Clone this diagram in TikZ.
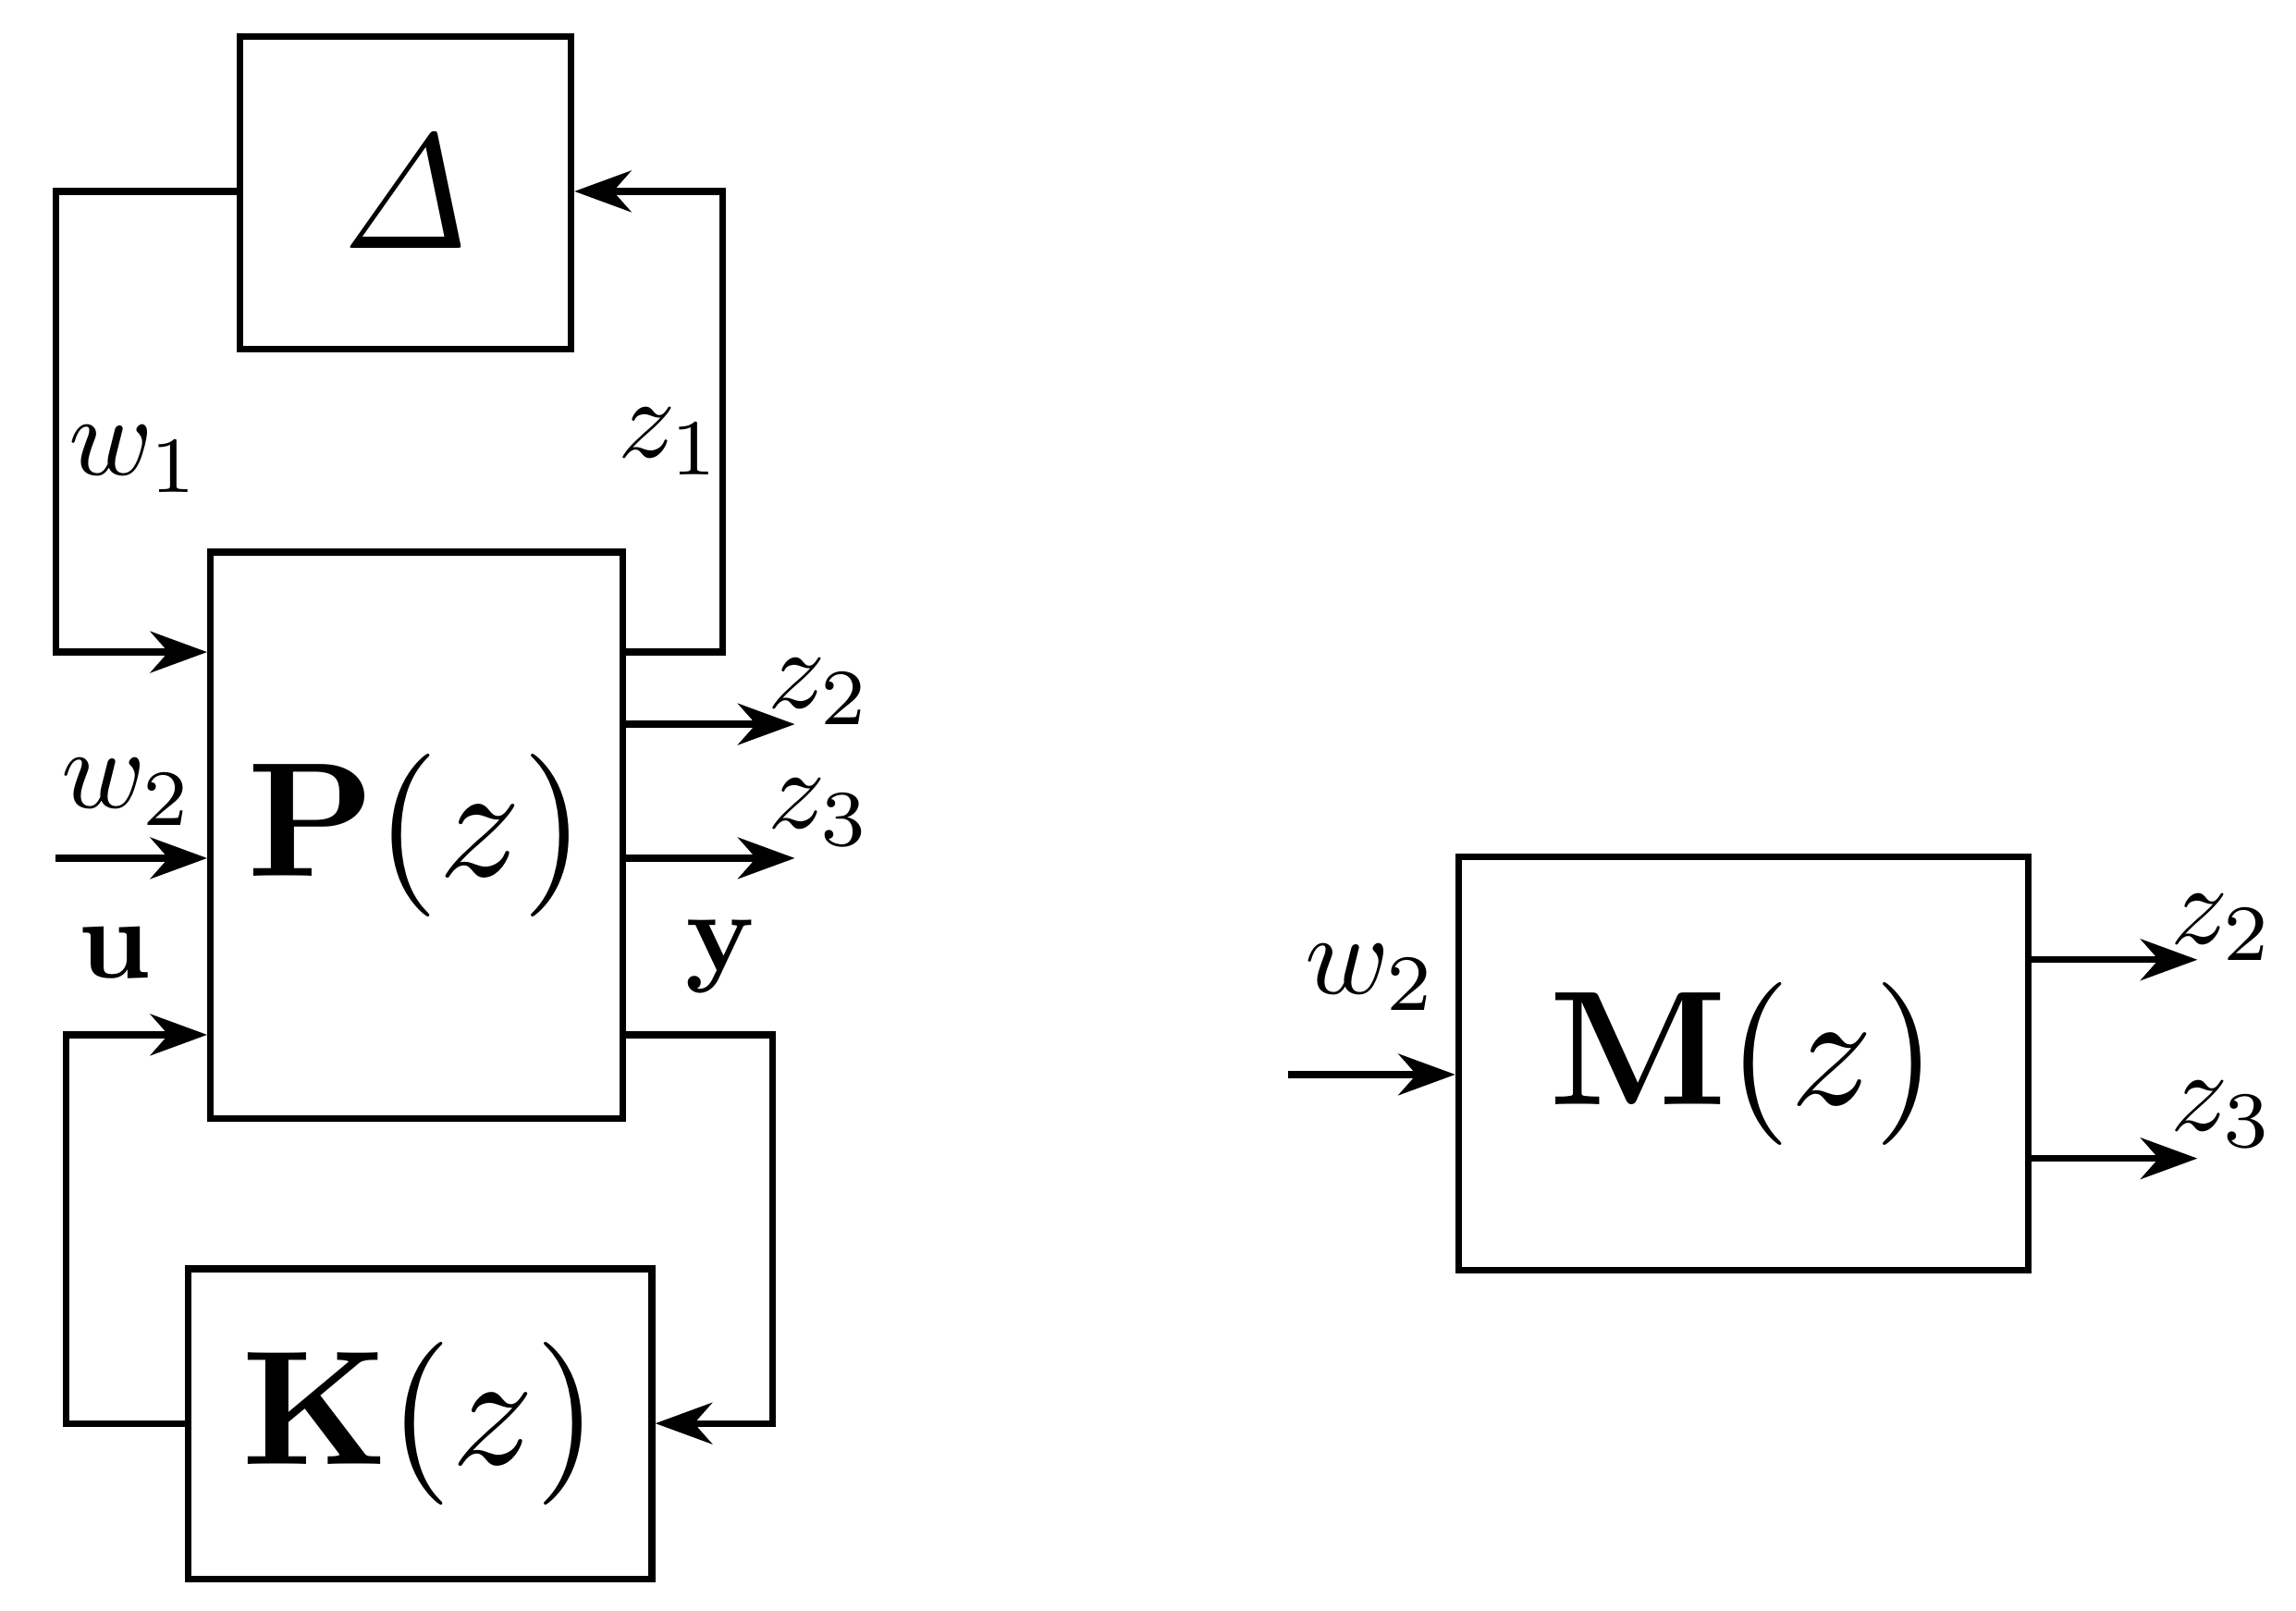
\documentclass[tikz,border=0pt]{standalone}
\usepackage{graphicx}
\usetikzlibrary{arrows.meta}
\newcommand{\bigtxt}[1]{\scalebox{6.3}{#1}}
\newcommand{\labtxt}[1]{\scalebox{4.4}{#1}}
\begin{document}
\begin{tikzpicture}[x=0.02cm,y=-0.02cm,
  blk/.style={draw,line width=2.6pt,inner sep=0pt},
  ln/.style={line width=2.6pt,-{Stealth[length=22pt,width=16pt,inset=7pt]}},
  lab/.style={inner sep=0pt}]
\useasboundingbox (0,0) rectangle (1560,1094);
\node[blk,minimum width=4.5cm,minimum height=4.24cm] (D) at (275.5,131) {\bigtxt{$\mathit{\Delta}$}};
\node[blk,minimum width=5.6cm,minimum height=7.7cm] (P) at (283,567.5) {\bigtxt{$\mathbf{P}(z)$}};
\node[blk,minimum width=6.3cm,minimum height=4.22cm] (K) at (285.5,967.5) {\bigtxt{$\mathbf{K}(z)$}};
\node[blk,minimum width=7.74cm,minimum height=5.62cm] (M) at (1184.5,722.5) {\bigtxt{$\mathbf{M}(z)$}};
\coordinate (a1) at (38,130); \coordinate (a2) at (38,443);
\coordinate (b1) at (491,443); \coordinate (b2) at (491,130);
\coordinate (c1) at (45,967); \coordinate (c2) at (45,703);
\coordinate (d1) at (525,703); \coordinate (d2) at (525,967);
\coordinate (ez2) at (540,492); \coordinate (ez3) at (540,583);
\coordinate (sw2) at (38,583);
\coordinate (mw) at (875,730); \coordinate (mz2) at (1493,652); \coordinate (mz3) at (1493,787);
\draw[ln] (D.west|-a1) -- (a1) -- (a2) -- (P.west|-a2);
\draw[ln] (P.east|-b1) -- (b1) -- (b2) -- (D.east|-b2);
\draw[ln] (K.west|-c1) -- (c1) -- (c2) -- (P.west|-c2);
\draw[ln] (P.east|-d1) -- (d1) -- (d2) -- (K.east|-d2);
\draw[ln] (P.east|-ez2) -- (ez2);
\draw[ln] (P.east|-ez3) -- (ez3);
\draw[ln] (sw2) -- (P.west|-sw2);
\draw[ln] (mw) -- (M.west|-mw);
\draw[ln] (M.east|-mz2) -- (mz2);
\draw[ln] (M.east|-mz3) -- (mz3);
\node[lab] (lw1) at (92,312) {\labtxt{$w_1$}};
\node[lab] (lz1) at (455,300) {\labtxt{$z_1$}};
\node[lab] (lz2) at (557,470) {\labtxt{$z_2$}};
\node[lab] (lz3) at (557,552) {\labtxt{$z_3$}};
\node[lab] (lw2) at (87,538) {\labtxt{$w_2$}};
\node[lab] (lu) at (78,647) {\labtxt{$\mathbf{u}$}};
\node[lab] (ly) at (490,650) {\labtxt{$\mathbf{y}$}};
\node[lab] (mlw) at (932,664) {\labtxt{$w_2$}};
\node[lab] (mlz2) at (1510,630) {\labtxt{$z_2$}};
\node[lab] (mlz3) at (1510,757) {\labtxt{$z_3$}};
\end{tikzpicture}
\end{document}
